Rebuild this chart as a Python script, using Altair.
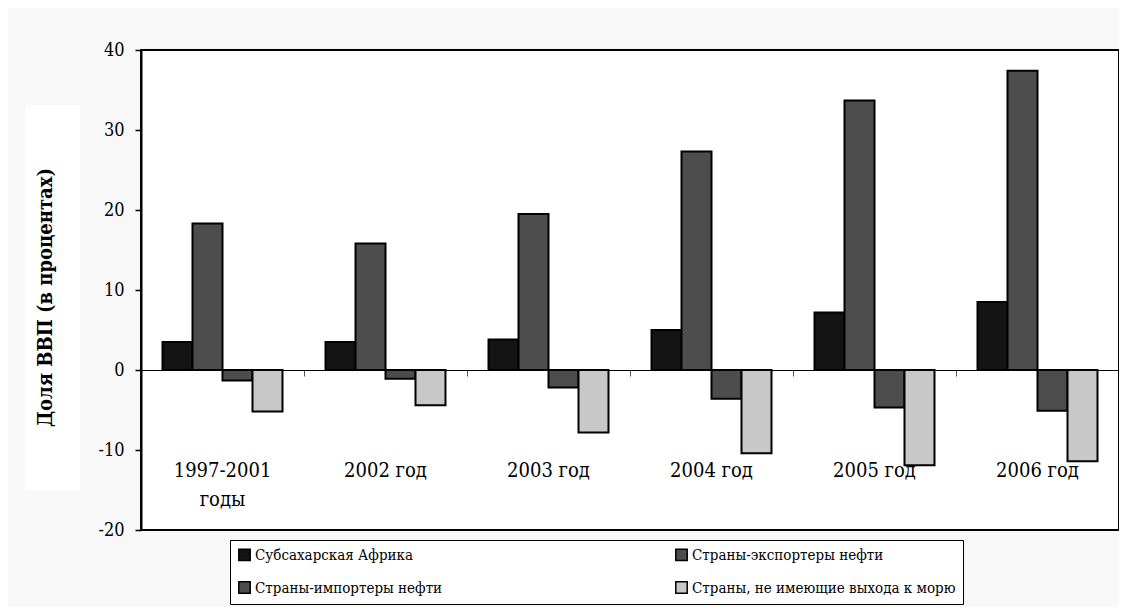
import altair as alt
import pandas as pd

categories = ["1997-2001\nгоды", "2002 год", "2003 год", "2004 год", "2005 год", "2006 год"]
series = [
    "Субсахарская Африка",
    "Страны-экспортеры нефти",
    "Страны-импортеры нефти",
    "Страны, не имеющие выхода к морю",
]
subsahara = [3.5, 3.5, 3.8, 5.0, 7.2, 8.5]
exporters = [18.3, 15.8, 19.5, 27.3, 33.7, 37.4]
importers = [-1.3, -1.1, -2.2, -3.6, -4.7, -5.1]
landlocked = [-5.2, -4.4, -7.8, -10.4, -11.9, -11.4]
colors = ["#141414", "#4d4d4d", "#4d4d4d", "#c8c8c8"]
y_ticks = [-20, -10, 0, 10, 20, 30, 40]

rows = []
for s, vals in zip(series, [subsahara, exporters, importers, landlocked]):
    for c, v in zip(categories, vals):
        rows.append({"cat": c, "series": s, "value": v})
df = pd.DataFrame(rows)

CFONT = "DejaVu Serif Condensed"

box = alt.Chart(pd.DataFrame({"a": [0]})).mark_rect(color="white").encode(
    x=alt.value(-116), x2=alt.value(-61), y=alt.value(55), y2=alt.value(440)
)

bars = alt.Chart(df).mark_bar(stroke="black", strokeWidth=2).encode(
    x=alt.X(
        "cat:N",
        sort=categories,
        scale=alt.Scale(padding=0),
        axis=alt.Axis(
            title=None,
            orient="bottom",
            offset=-160,
            domain=True,
            domainColor="#000000",
            domainWidth=1,
            ticks=True,
            tickColor="#555555",
            tickWidth=1,
            tickSize=6,
            bandPosition=0,
            labelPadding=84,
            labelAngle=0,
            labelFont=CFONT,
            labelFontSize=20,
            labelColor="#000000",
            labelLineHeight=29,
            labelBaseline="top",
            labelExpr="split(datum.label, '\\n')",
            zindex=1,
        ),
    ),
    xOffset=alt.XOffset(
        "series:N", sort=series, scale=alt.Scale(paddingInner=0, paddingOuter=0.717)
    ),
    y=alt.Y(
        "value:Q",
        scale=alt.Scale(domain=[-20, 40], nice=False),
        axis=alt.Axis(
            title="Доля ВВП (в процентах)",
            titleFont=CFONT,
            titleFontSize=20,
            titleFontWeight="bold",
            titleColor="#000000",
            titleAngle=270,
            titleX=-96,
            titleY=247,
            titleAlign="center",
            titleBaseline="middle",
            values=y_ticks,
            labelExpr="datum.value + ''",
            grid=False,
            domain=True,
            domainColor="#000000",
            domainWidth=2,
            tickColor="#000000",
            tickWidth=1.5,
            tickSize=6,
            labelPadding=11,
            labelFont=CFONT,
            labelFontSize=18,
            labelColor="#000000",
            zindex=1,
        ),
    ),
    color=alt.Color(
        "series:N",
        sort=series,
        scale=alt.Scale(domain=series, range=colors),
        legend=alt.Legend(
            title=None,
            orient="none",
            legendX=89,
            legendY=490,
            columns=2,
            direction="horizontal",
            symbolType="square",
            symbolSize=130,
            symbolStrokeColor="#000000",
            symbolStrokeWidth=1.5,
            symbolOpacity=1,
            labelFont=CFONT,
            labelFontSize=15,
            labelColor="#000000",
            labelOffset=3,
            labelLimit=400,
            rowPadding=14,
            columnPadding=229,
            strokeColor="#000000",
            fillColor="#ffffff",
            padding=7,
        ),
    ),
)

chart = (
    alt.layer(box, bars)
    .properties(
        width=978,
        height=480,
        background="#f8f8f8",
        padding={"left": 133, "top": 42, "right": 0, "bottom": 77},
        autosize=alt.AutoSizeParams(type="none"),
    )
    .configure_view(stroke="#000000", strokeWidth=2, fill="#ffffff")
)

chart.save("out.html", embed_options={"renderer": "svg", "actions": False})
